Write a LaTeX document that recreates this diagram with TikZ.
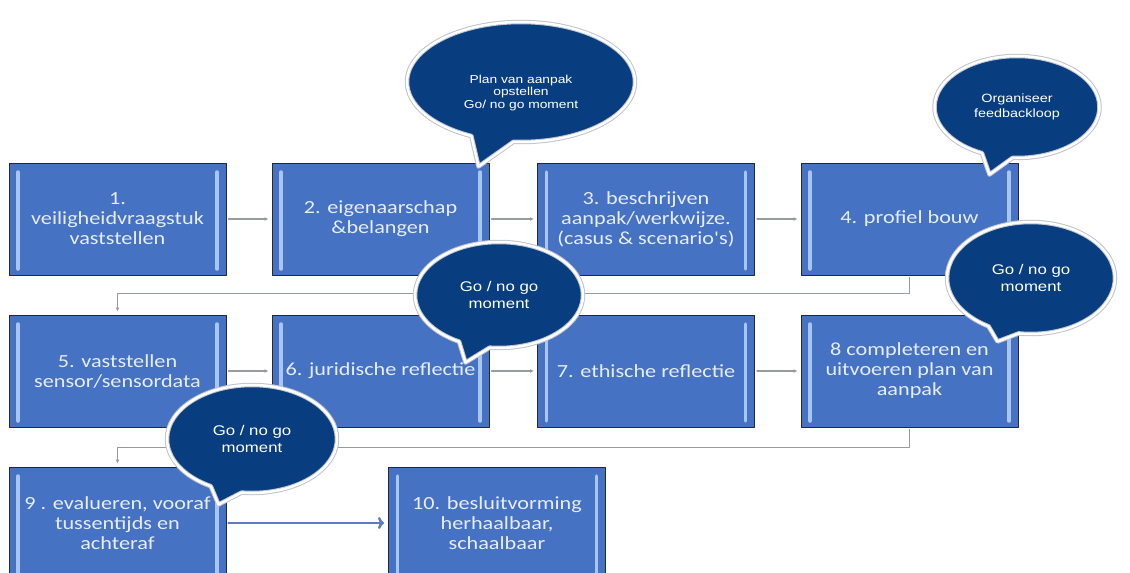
\documentclass[tikz,border=0pt]{standalone}
\usepackage{fontspec}
\usetikzlibrary{arrows.meta,shapes.callouts}
\newfontfamily\boxfont[FakeStretch=1.2]{Carlito}
\newfontfamily\bubblefont[FakeStretch=1.2]{Liberation Sans}
\definecolor{Boxfill}{RGB}{70,114,196}
\definecolor{Boxline}{RGB}{40,40,45}
\definecolor{Bevel}{RGB}{170,198,240}
\definecolor{Boxtext}{RGB}{230,236,248}
\definecolor{Bubblefill}{RGB}{8,62,128}
\definecolor{Bubblerim}{RGB}{190,196,204}
\definecolor{Linkgray}{RGB}{150,155,160}
\definecolor{Bigarrow}{RGB}{92,126,188}

\begin{document}
\begin{tikzpicture}[x=1pt,y=-1pt,line cap=round,line join=round,
  stepbox/.style={draw=Boxline,line width=1pt,fill=Boxfill,minimum width=217pt,minimum height=112pt,inner sep=0pt,align=center,text=Boxtext,font=\boxfont\fontsize{18.5}{20}\selectfont,
    path picture={
      \draw[Bevel,line width=3.5pt] ([xshift=9pt,yshift=-9pt]path picture bounding box.north west) -- ([xshift=9pt,yshift=6pt]path picture bounding box.south west);
      \draw[Bevel,line width=3.5pt] ([xshift=-9pt,yshift=-9pt]path picture bounding box.north east) -- ([xshift=-9pt,yshift=6pt]path picture bounding box.south east);}},
  bubble/.style={ellipse callout,draw=Bubblerim,line width=1pt,double=white,double distance=2.5pt,fill=Bubblefill,inner sep=0pt,align=center,text=white,callout pointer arc=22,font=\bubblefont\fontsize{14}{16.5}\selectfont},
  link/.style={draw=Linkgray,line width=1.1pt,-{Latex[length=4pt,width=4pt]},shorten >=3pt,shorten <=2pt},
  bigarrow/.style={draw=Bigarrow,line width=2.5pt,-{To[length=6pt,width=12pt]},shorten >=4pt,shorten <=2pt}]
\path[use as bounding box] (0,0) rectangle (1130,573);
\node[stepbox] (b1) at (117.5,219) {1.\\veiligheidvraagstuk\\vaststellen};
\node[stepbox] (b2) at (380.5,219) {2. eigenaarschap\\\&belangen};
\node[stepbox] (b3) at (646,219) {3. beschrijven\\aanpak/werkwijze.\\(casus \& scenario's)};
\node[stepbox] (b4) at (909.5,219) {4. profiel bouw};
\node[stepbox] (b5) at (117.5,371) {5. vaststellen\\sensor/sensordata};
\node[stepbox] (b6) at (380.5,371) {6. juridische reflectie};
\node[stepbox] (b7) at (646,371) {7. ethische reflectie};
\node[stepbox] (b8) at (909.5,371) {8 completeren en\\uitvoeren plan van\\aanpak};
\node[stepbox] (b9) at (117.5,523) {9 . evalueren, vooraf\\tussentijds en\\achteraf};
\node[stepbox] (b10) at (497,523) {10. besluitvorming\\herhaalbaar,\\schaalbaar};
\draw[link] (b1) -- (b2);
\draw[link] (b2) -- (b3);
\draw[link] (b3) -- (b4);
\draw[link] (b5) -- (b6);
\draw[link] (b6) -- (b7);
\draw[link] (b7) -- (b8);
\draw[link] (b4.south) -- ++(0,18) -| (b5.north);
\draw[link] (b8.south) -- ++(0,20) -| (b9.north);
\draw[bigarrow] (b9) -- (b10);
\node[bubble,font=\bubblefont\fontsize{11.5}{12.7}\selectfont,minimum width=228pt,minimum height=120pt,callout absolute pointer={([xshift=-11pt,yshift=-4pt]b2.north east)}] (c1) at (521,82) {\rule{0pt}{30pt}Plan van aanpak\\opstellen\\Go/ no go moment};
\node[bubble,font=\bubblefont\fontsize{12}{15}\selectfont,minimum width=165pt,minimum height=102pt,callout absolute pointer={([xshift=-29pt,yshift=-12pt]b4.north east)}] (c2) at (1017,107) {Organiseer\\feedbackloop};
\node[bubble,minimum width=168pt,minimum height=112pt,callout absolute pointer={([xshift=-21pt,yshift=-27pt]b8.north east)}] (c3) at (1031,278) {Go / no go\\moment};
\node[bubble,minimum width=168pt,minimum height=106pt,callout absolute pointer={([xshift=-24pt,yshift=-48pt]b6.north east)}] (c4) at (499,295) {Go / no go\\moment};
\node[bubble,minimum width=170pt,minimum height=108pt,callout absolute pointer={([xshift=-8pt,yshift=-38pt]b9.north east)}] (c5) at (252,439) {Go / no go\\moment};
\end{tikzpicture}
\end{document}
